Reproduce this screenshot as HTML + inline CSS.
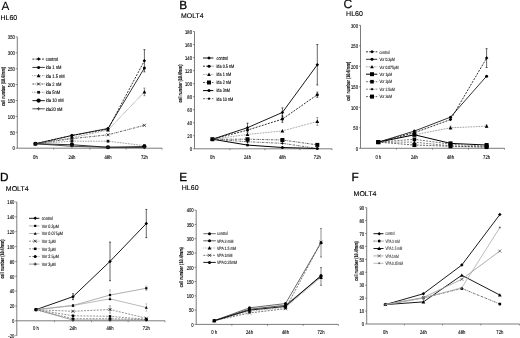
<!DOCTYPE html>
<html><head><meta charset="utf-8"><title>Figure</title>
<style>
html,body{margin:0;padding:0;background:#fff;width:520px;height:338px;overflow:hidden}
svg{display:block;font-family:"Liberation Sans", sans-serif;filter:blur(0.3px);text-rendering:geometricPrecision}
</style></head>
<body>
<svg width="520" height="338" viewBox="0 0 520 338">
<rect width="520" height="338" fill="#fff"/>
<g>
<text x="1.6" y="10" font-size="11.8" text-anchor="start" font-weight="normal" fill="#000" stroke="#000" stroke-width="0.05">A</text>
<text x="0.5" y="19.6" font-size="7.0" text-anchor="start" font-weight="normal" fill="#000" stroke="#000" stroke-width="0.12">HL60</text>
<path d="M17.3 36.9L17.3 148.2" stroke="#444" stroke-width="0.7" fill="none"/>
<path d="M15.7 148.2L17.3 148.2" stroke="#444" stroke-width="0.6"/>
<text x="14.8" y="150.45" font-size="5.5" text-anchor="end" font-weight="normal" fill="#000" transform="translate(14.8 150.45) scale(0.76 1) translate(-14.8 -150.45)" stroke="#000" stroke-width="0.12">0</text>
<path d="M15.7 132.3L17.3 132.3" stroke="#444" stroke-width="0.6"/>
<text x="14.8" y="134.55" font-size="5.5" text-anchor="end" font-weight="normal" fill="#000" transform="translate(14.8 134.55) scale(0.76 1) translate(-14.8 -134.55)" stroke="#000" stroke-width="0.12">50</text>
<path d="M15.7 116.4L17.3 116.4" stroke="#444" stroke-width="0.6"/>
<text x="14.8" y="118.65" font-size="5.5" text-anchor="end" font-weight="normal" fill="#000" transform="translate(14.8 118.65) scale(0.76 1) translate(-14.8 -118.65)" stroke="#000" stroke-width="0.12">100</text>
<path d="M15.7 100.5L17.3 100.5" stroke="#444" stroke-width="0.6"/>
<text x="14.8" y="102.75" font-size="5.5" text-anchor="end" font-weight="normal" fill="#000" transform="translate(14.8 102.75) scale(0.76 1) translate(-14.8 -102.75)" stroke="#000" stroke-width="0.12">150</text>
<path d="M15.7 84.6L17.3 84.6" stroke="#444" stroke-width="0.6"/>
<text x="14.8" y="86.85" font-size="5.5" text-anchor="end" font-weight="normal" fill="#000" transform="translate(14.8 86.85) scale(0.76 1) translate(-14.8 -86.85)" stroke="#000" stroke-width="0.12">200</text>
<path d="M15.7 68.7L17.3 68.7" stroke="#444" stroke-width="0.6"/>
<text x="14.8" y="70.95" font-size="5.5" text-anchor="end" font-weight="normal" fill="#000" transform="translate(14.8 70.95) scale(0.76 1) translate(-14.8 -70.95)" stroke="#000" stroke-width="0.12">250</text>
<path d="M15.7 52.8L17.3 52.8" stroke="#444" stroke-width="0.6"/>
<text x="14.8" y="55.05" font-size="5.5" text-anchor="end" font-weight="normal" fill="#000" transform="translate(14.8 55.05) scale(0.76 1) translate(-14.8 -55.05)" stroke="#000" stroke-width="0.12">300</text>
<path d="M15.7 36.9L17.3 36.9" stroke="#444" stroke-width="0.6"/>
<text x="14.8" y="39.15" font-size="5.5" text-anchor="end" font-weight="normal" fill="#000" transform="translate(14.8 39.15) scale(0.76 1) translate(-14.8 -39.15)" stroke="#000" stroke-width="0.12">350</text>
<path d="M17.3 148.2L162.1 148.2" stroke="#444" stroke-width="0.7" fill="none"/>
<path d="M53.65 148.2L53.65 149.6" stroke="#444" stroke-width="0.6"/>
<path d="M89.95 148.2L89.95 149.6" stroke="#444" stroke-width="0.6"/>
<path d="M126.2 148.2L126.2 149.6" stroke="#444" stroke-width="0.6"/>
<path d="M162.1 148.2L162.1 149.6" stroke="#444" stroke-width="0.6"/>
<text x="35.4" y="158.9" font-size="5.5" text-anchor="middle" font-weight="normal" fill="#000" transform="translate(35.4 158.9) scale(0.76 1) translate(-35.4 -158.9)" stroke="#000" stroke-width="0.12">0h</text>
<text x="71.9" y="158.9" font-size="5.5" text-anchor="middle" font-weight="normal" fill="#000" transform="translate(71.9 158.9) scale(0.76 1) translate(-71.9 -158.9)" stroke="#000" stroke-width="0.12">24h</text>
<text x="108" y="158.9" font-size="5.5" text-anchor="middle" font-weight="normal" fill="#000" transform="translate(108 158.9) scale(0.76 1) translate(-108 -158.9)" stroke="#000" stroke-width="0.12">48h</text>
<text x="144.4" y="158.9" font-size="5.5" text-anchor="middle" font-weight="normal" fill="#000" transform="translate(144.4 158.9) scale(0.76 1) translate(-144.4 -158.9)" stroke="#000" stroke-width="0.12">72h</text>
<text x="0" y="0" font-size="5.4" font-weight="bold" fill="#111" stroke="#111" stroke-width="0.15" text-anchor="middle" textLength="39" lengthAdjust="spacingAndGlyphs" transform="translate(4.8 86.5) rotate(-90)">cell number (10.4/mm)</text>
<path d="M35.4 143.75L71.9 135.48L108 129.12L144.4 60.75" stroke="#000" stroke-width="0.8" fill="none" stroke-dasharray="2,1.2"/>
<path d="M144.4 49.62L144.4 71.88M143.4 49.62L145.4 49.62M143.4 71.88L145.4 71.88" stroke="#000" stroke-width="0.6" fill="none"/>
<path d="M35.4 142L37.15 143.75L35.4 145.5L33.65 143.75Z" fill="#000"/>
<path d="M71.9 133.73L73.65 135.48L71.9 137.23L70.15 135.48Z" fill="#000"/>
<path d="M108 127.37L109.75 129.12L108 130.87L106.25 129.12Z" fill="#000"/>
<path d="M144.4 59L146.15 60.75L144.4 62.5L142.65 60.75Z" fill="#000"/>
<path d="M35.4 143.75L71.9 135.48L108 128.48L144.4 68.06" stroke="#000" stroke-width="0.8" fill="none"/>
<circle cx="35.4" cy="143.75" r="1.5" fill="#000"/>
<circle cx="71.9" cy="135.48" r="1.5" fill="#000"/>
<circle cx="108" cy="128.48" r="1.5" fill="#000"/>
<circle cx="144.4" cy="68.06" r="1.5" fill="#000"/>
<path d="M35.4 143.75L71.9 137.71L108 130.07L144.4 91.91" stroke="#555" stroke-width="0.8" fill="none" stroke-dasharray="0.7,0.9"/>
<path d="M144.4 88.1L144.4 95.73M143.4 88.1L145.4 88.1M143.4 95.73L145.4 95.73" stroke="#555" stroke-width="0.6" fill="none"/>
<path d="M35.4 141.87L37.27 145.25L33.52 145.25Z" fill="#000"/>
<path d="M71.9 135.83L73.78 139.21L70.03 139.21Z" fill="#000"/>
<path d="M108 128.2L109.88 131.57L106.12 131.57Z" fill="#000"/>
<path d="M144.4 90.04L146.28 93.41L142.53 93.41Z" fill="#000"/>
<path d="M35.4 143.75L71.9 138.66L108 134.84L144.4 125.3" stroke="#333" stroke-width="0.8" fill="none" stroke-dasharray="2,0.9,0.7,0.9"/>
<path d="M33.9 142.25L36.9 145.25M36.9 142.25L33.9 145.25" stroke="#000" stroke-width="0.7" fill="none"/>
<path d="M70.4 137.16L73.4 140.16M73.4 137.16L70.4 140.16" stroke="#000" stroke-width="0.7" fill="none"/>
<path d="M106.5 133.34L109.5 136.34M109.5 133.34L106.5 136.34" stroke="#000" stroke-width="0.7" fill="none"/>
<path d="M142.9 123.8L145.9 126.8M145.9 123.8L142.9 126.8" stroke="#000" stroke-width="0.7" fill="none"/>
<path d="M35.4 143.75L71.9 141.2L108 141.2L144.4 145.66" stroke="#555" stroke-width="0.8" fill="none" stroke-dasharray="0.7,0.9"/>
<rect x="34.02" y="142.37" width="2.75" height="2.75" fill="#111"/>
<rect x="70.53" y="139.83" width="2.75" height="2.75" fill="#111"/>
<rect x="106.62" y="139.83" width="2.75" height="2.75" fill="#111"/>
<rect x="143.03" y="144.28" width="2.75" height="2.75" fill="#111"/>
<path d="M35.4 143.75L71.9 144.7L108 147.25L144.4 146.61" stroke="#333" stroke-width="1.1" fill="none"/>
<circle cx="35.4" cy="143.75" r="2.12" fill="#000"/>
<circle cx="71.9" cy="144.7" r="2.12" fill="#000"/>
<circle cx="108" cy="147.25" r="2.12" fill="#000"/>
<circle cx="144.4" cy="146.61" r="2.12" fill="#000"/>
<path d="M35.4 143.75L71.9 146.29L108 147.25L144.4 147.56" stroke="#222" stroke-width="0.8" fill="none"/>
<path d="M33.77 143.75L37.02 143.75M35.4 142.12L35.4 145.37" stroke="#222" stroke-width="0.7" fill="none"/>
<path d="M70.28 146.29L73.53 146.29M71.9 144.67L71.9 147.92" stroke="#222" stroke-width="0.7" fill="none"/>
<path d="M106.38 147.25L109.62 147.25M108 145.62L108 148.87" stroke="#222" stroke-width="0.7" fill="none"/>
<path d="M142.78 147.56L146.03 147.56M144.4 145.94L144.4 149.19" stroke="#222" stroke-width="0.7" fill="none"/>
<path d="M32.4 59.1L44.8 59.1" stroke="#000" stroke-width="0.8" fill="none" stroke-dasharray="2,1.2"/>
<path d="M38.6 57.35L40.35 59.1L38.6 60.85L36.85 59.1Z" fill="#000"/>
<text x="45.7" y="60.9" font-size="5.1" text-anchor="start" font-weight="normal" fill="#000" transform="translate(45.7 60.9) scale(0.8 1) translate(-45.7 -60.9)" stroke="#000" stroke-width="0.12">control</text>
<path d="M32.4 67.4L44.8 67.4" stroke="#000" stroke-width="0.8" fill="none"/>
<circle cx="38.6" cy="67.4" r="1.5" fill="#000"/>
<text x="45.7" y="69.2" font-size="5.1" text-anchor="start" font-weight="normal" fill="#000" transform="translate(45.7 69.2) scale(0.8 1) translate(-45.7 -69.2)" stroke="#000" stroke-width="0.12">ida 1 nM</text>
<path d="M32.4 75.7L44.8 75.7" stroke="#555" stroke-width="0.8" fill="none" stroke-dasharray="0.7,0.9"/>
<path d="M38.6 73.83L40.48 77.2L36.73 77.2Z" fill="#000"/>
<text x="45.7" y="77.5" font-size="5.1" text-anchor="start" font-weight="normal" fill="#000" transform="translate(45.7 77.5) scale(0.8 1) translate(-45.7 -77.5)" stroke="#000" stroke-width="0.12">ida 1.5 nM</text>
<path d="M32.4 84L44.8 84" stroke="#333" stroke-width="0.8" fill="none" stroke-dasharray="2,0.9,0.7,0.9"/>
<path d="M37.1 82.5L40.1 85.5M40.1 82.5L37.1 85.5" stroke="#000" stroke-width="0.7" fill="none"/>
<text x="45.7" y="85.8" font-size="5.1" text-anchor="start" font-weight="normal" fill="#000" transform="translate(45.7 85.8) scale(0.8 1) translate(-45.7 -85.8)" stroke="#000" stroke-width="0.12">ida 2 nM</text>
<path d="M32.4 92.3L44.8 92.3" stroke="#555" stroke-width="0.8" fill="none" stroke-dasharray="0.7,0.9"/>
<rect x="37.23" y="90.92" width="2.75" height="2.75" fill="#111"/>
<text x="45.7" y="94.1" font-size="5.1" text-anchor="start" font-weight="normal" fill="#000" transform="translate(45.7 94.1) scale(0.8 1) translate(-45.7 -94.1)" stroke="#000" stroke-width="0.12">ida  5nM</text>
<path d="M32.4 100.6L44.8 100.6" stroke="#333" stroke-width="1.1" fill="none"/>
<circle cx="38.6" cy="100.6" r="2.12" fill="#000"/>
<text x="45.7" y="102.4" font-size="5.1" text-anchor="start" font-weight="normal" fill="#000" transform="translate(45.7 102.4) scale(0.8 1) translate(-45.7 -102.4)" stroke="#000" stroke-width="0.12">ida 10 nM</text>
<path d="M32.4 108.8L44.8 108.8" stroke="#222" stroke-width="0.8" fill="none"/>
<path d="M36.98 108.8L40.23 108.8M38.6 107.17L38.6 110.42" stroke="#222" stroke-width="0.7" fill="none"/>
<text x="45.7" y="110.6" font-size="5.1" text-anchor="start" font-weight="normal" fill="#000" transform="translate(45.7 110.6) scale(0.8 1) translate(-45.7 -110.6)" stroke="#000" stroke-width="0.12">ida20 nM</text>
<text x="179.2" y="9" font-size="11.8" text-anchor="start" font-weight="normal" fill="#000" stroke="#000" stroke-width="0.3">B</text>
<text x="181.1" y="17.7" font-size="6.9" text-anchor="start" font-weight="normal" fill="#000" stroke="#000" stroke-width="0.12">MOLT4</text>
<path d="M194.5 31.53L194.5 148.8" stroke="#444" stroke-width="0.7" fill="none"/>
<path d="M192.9 148.8L194.5 148.8" stroke="#444" stroke-width="0.6"/>
<text x="192" y="151.05" font-size="5.5" text-anchor="end" font-weight="normal" fill="#000" transform="translate(192 151.05) scale(0.76 1) translate(-192 -151.05)" stroke="#000" stroke-width="0.12">0</text>
<path d="M192.9 135.77L194.5 135.77" stroke="#444" stroke-width="0.6"/>
<text x="192" y="138.02" font-size="5.5" text-anchor="end" font-weight="normal" fill="#000" transform="translate(192 138.02) scale(0.76 1) translate(-192 -138.02)" stroke="#000" stroke-width="0.12">20</text>
<path d="M192.9 122.74L194.5 122.74" stroke="#444" stroke-width="0.6"/>
<text x="192" y="124.99" font-size="5.5" text-anchor="end" font-weight="normal" fill="#000" transform="translate(192 124.99) scale(0.76 1) translate(-192 -124.99)" stroke="#000" stroke-width="0.12">40</text>
<path d="M192.9 109.71L194.5 109.71" stroke="#444" stroke-width="0.6"/>
<text x="192" y="111.96" font-size="5.5" text-anchor="end" font-weight="normal" fill="#000" transform="translate(192 111.96) scale(0.76 1) translate(-192 -111.96)" stroke="#000" stroke-width="0.12">60</text>
<path d="M192.9 96.68L194.5 96.68" stroke="#444" stroke-width="0.6"/>
<text x="192" y="98.93" font-size="5.5" text-anchor="end" font-weight="normal" fill="#000" transform="translate(192 98.93) scale(0.76 1) translate(-192 -98.93)" stroke="#000" stroke-width="0.12">80</text>
<path d="M192.9 83.65L194.5 83.65" stroke="#444" stroke-width="0.6"/>
<text x="192" y="85.9" font-size="5.5" text-anchor="end" font-weight="normal" fill="#000" transform="translate(192 85.9) scale(0.76 1) translate(-192 -85.9)" stroke="#000" stroke-width="0.12">100</text>
<path d="M192.9 70.62L194.5 70.62" stroke="#444" stroke-width="0.6"/>
<text x="192" y="72.87" font-size="5.5" text-anchor="end" font-weight="normal" fill="#000" transform="translate(192 72.87) scale(0.76 1) translate(-192 -72.87)" stroke="#000" stroke-width="0.12">120</text>
<path d="M192.9 57.59L194.5 57.59" stroke="#444" stroke-width="0.6"/>
<text x="192" y="59.84" font-size="5.5" text-anchor="end" font-weight="normal" fill="#000" transform="translate(192 59.84) scale(0.76 1) translate(-192 -59.84)" stroke="#000" stroke-width="0.12">140</text>
<path d="M192.9 44.56L194.5 44.56" stroke="#444" stroke-width="0.6"/>
<text x="192" y="46.81" font-size="5.5" text-anchor="end" font-weight="normal" fill="#000" transform="translate(192 46.81) scale(0.76 1) translate(-192 -46.81)" stroke="#000" stroke-width="0.12">160</text>
<path d="M192.9 31.53L194.5 31.53" stroke="#444" stroke-width="0.6"/>
<text x="192" y="33.78" font-size="5.5" text-anchor="end" font-weight="normal" fill="#000" transform="translate(192 33.78) scale(0.76 1) translate(-192 -33.78)" stroke="#000" stroke-width="0.12">180</text>
<path d="M194.5 148.8L332 148.8" stroke="#444" stroke-width="0.7" fill="none"/>
<path d="M229.95 148.8L229.95 150.2" stroke="#444" stroke-width="0.6"/>
<path d="M264.95 148.8L264.95 150.2" stroke="#444" stroke-width="0.6"/>
<path d="M299.85 148.8L299.85 150.2" stroke="#444" stroke-width="0.6"/>
<path d="M332 148.8L332 150.2" stroke="#444" stroke-width="0.6"/>
<text x="212.4" y="159" font-size="5.5" text-anchor="middle" font-weight="normal" fill="#000" transform="translate(212.4 159) scale(0.76 1) translate(-212.4 -159)" stroke="#000" stroke-width="0.12">0h</text>
<text x="247.5" y="159" font-size="5.5" text-anchor="middle" font-weight="normal" fill="#000" transform="translate(247.5 159) scale(0.76 1) translate(-247.5 -159)" stroke="#000" stroke-width="0.12">24h</text>
<text x="282.4" y="159" font-size="5.5" text-anchor="middle" font-weight="normal" fill="#000" transform="translate(282.4 159) scale(0.76 1) translate(-282.4 -159)" stroke="#000" stroke-width="0.12">48h</text>
<text x="317.3" y="159" font-size="5.5" text-anchor="middle" font-weight="normal" fill="#000" transform="translate(317.3 159) scale(0.76 1) translate(-317.3 -159)" stroke="#000" stroke-width="0.12">72h</text>
<text x="0" y="0" font-size="5.4" font-weight="bold" fill="#111" stroke="#111" stroke-width="0.15" text-anchor="middle" textLength="38" lengthAdjust="spacingAndGlyphs" transform="translate(181.5 83.6) rotate(-90)">cell number (10.4/mm)</text>
<path d="M212.4 139.22L247.5 127.69L282.4 112.45L317.3 64.76" stroke="#000" stroke-width="0.9" fill="none"/>
<path d="M247.5 123.13L247.5 132.25M246.5 123.13L248.5 123.13M246.5 132.25L248.5 132.25" stroke="#000" stroke-width="0.6" fill="none"/>
<path d="M282.4 107.89L282.4 117.01M281.4 107.89L283.4 107.89M281.4 117.01L283.4 117.01" stroke="#000" stroke-width="0.6" fill="none"/>
<path d="M317.3 44.56L317.3 84.95M316.3 44.56L318.3 44.56M316.3 84.95L318.3 84.95" stroke="#000" stroke-width="0.6" fill="none"/>
<path d="M212.4 137.47L214.15 139.22L212.4 140.97L210.65 139.22Z" fill="#000"/>
<path d="M247.5 125.94L249.25 127.69L247.5 129.44L245.75 127.69Z" fill="#000"/>
<path d="M282.4 110.7L284.15 112.45L282.4 114.2L280.65 112.45Z" fill="#000"/>
<path d="M317.3 63.01L319.05 64.76L317.3 66.51L315.55 64.76Z" fill="#000"/>
<path d="M212.4 139.22L247.5 130.1L282.4 119.09L317.3 94.73" stroke="#000" stroke-width="0.8" fill="none" stroke-dasharray="2,1.2"/>
<path d="M282.4 115.83L282.4 122.35M281.4 115.83L283.4 115.83M281.4 122.35L283.4 122.35" stroke="#000" stroke-width="0.6" fill="none"/>
<path d="M317.3 92.12L317.3 97.33M316.3 92.12L318.3 92.12M316.3 97.33L318.3 97.33" stroke="#000" stroke-width="0.6" fill="none"/>
<circle cx="212.4" cy="139.22" r="1.5" fill="#000"/>
<circle cx="247.5" cy="130.1" r="1.5" fill="#000"/>
<circle cx="282.4" cy="119.09" r="1.5" fill="#000"/>
<circle cx="317.3" cy="94.73" r="1.5" fill="#000"/>
<path d="M212.4 139.22L247.5 134.47L282.4 130.95L317.3 121.44" stroke="#666" stroke-width="0.8" fill="none" stroke-dasharray="0.7,0.9"/>
<path d="M317.3 117.53L317.3 125.35M316.3 117.53L318.3 117.53M316.3 125.35L318.3 125.35" stroke="#666" stroke-width="0.6" fill="none"/>
<path d="M212.4 137.35L214.28 140.72L210.53 140.72Z" fill="#000"/>
<path d="M247.5 132.59L249.38 135.97L245.62 135.97Z" fill="#000"/>
<path d="M282.4 129.07L284.27 132.45L280.52 132.45Z" fill="#000"/>
<path d="M317.3 119.56L319.18 122.94L315.43 122.94Z" fill="#000"/>
<path d="M212.4 139.22L247.5 139.22L282.4 140L317.3 144.89" stroke="#333" stroke-width="0.8" fill="none" stroke-dasharray="2,0.9,0.7,0.9"/>
<rect x="210.4" y="137.22" width="4" height="4" fill="#000"/>
<rect x="245.5" y="137.22" width="4" height="4" fill="#000"/>
<rect x="280.4" y="138" width="4" height="4" fill="#000"/>
<rect x="315.3" y="142.89" width="4" height="4" fill="#000"/>
<path d="M212.4 139.22L247.5 145.09L282.4 147.5L317.3 148.47" stroke="#000" stroke-width="1.0" fill="none"/>
<circle cx="212.4" cy="139.22" r="1.5" fill="#000"/>
<circle cx="247.5" cy="145.09" r="1.5" fill="#000"/>
<circle cx="282.4" cy="147.5" r="1.5" fill="#000"/>
<circle cx="317.3" cy="148.47" r="1.5" fill="#000"/>
<path d="M212.4 139.22L247.5 141.76L282.4 143.33L317.3 148.47" stroke="#444" stroke-width="0.8" fill="none" stroke-dasharray="2,0.9,0.7,0.9"/>
<path d="M212.4 137.82L213.8 139.22L212.4 140.62L211 139.22Z" fill="#000"/>
<path d="M247.5 140.36L248.9 141.76L247.5 143.16L246.1 141.76Z" fill="#000"/>
<path d="M282.4 141.93L283.8 143.33L282.4 144.73L281 143.33Z" fill="#000"/>
<path d="M317.3 147.07L318.7 148.47L317.3 149.87L315.9 148.47Z" fill="#000"/>
<path d="M203 58L213.4 58" stroke="#000" stroke-width="0.9" fill="none"/>
<path d="M209 56.25L210.75 58L209 59.75L207.25 58Z" fill="#000"/>
<text x="216.5" y="59.8" font-size="5.0" text-anchor="start" font-weight="normal" fill="#000" transform="translate(216.5 59.8) scale(0.76 1) translate(-216.5 -59.8)" stroke="#000" stroke-width="0.12">control</text>
<path d="M203 66.2L213.4 66.2" stroke="#000" stroke-width="0.8" fill="none" stroke-dasharray="2,1.2"/>
<circle cx="209" cy="66.2" r="1.5" fill="#000"/>
<text x="216.5" y="68" font-size="5.0" text-anchor="start" font-weight="normal" fill="#000" transform="translate(216.5 68) scale(0.76 1) translate(-216.5 -68)" stroke="#000" stroke-width="0.12">ida 0.5 nM</text>
<path d="M203 74.4L213.4 74.4" stroke="#666" stroke-width="0.8" fill="none" stroke-dasharray="0.7,0.9"/>
<path d="M209 72.53L210.88 75.9L207.12 75.9Z" fill="#000"/>
<text x="216.5" y="76.2" font-size="5.0" text-anchor="start" font-weight="normal" fill="#000" transform="translate(216.5 76.2) scale(0.76 1) translate(-216.5 -76.2)" stroke="#000" stroke-width="0.12">ida 1 nM</text>
<path d="M203 82.5L213.4 82.5" stroke="#333" stroke-width="0.8" fill="none" stroke-dasharray="2,0.9,0.7,0.9"/>
<rect x="207" y="80.5" width="4" height="4" fill="#000"/>
<text x="216.5" y="84.3" font-size="5.0" text-anchor="start" font-weight="normal" fill="#000" transform="translate(216.5 84.3) scale(0.76 1) translate(-216.5 -84.3)" stroke="#000" stroke-width="0.12">ida 2 nM</text>
<path d="M203 90.6L213.4 90.6" stroke="#000" stroke-width="1.0" fill="none"/>
<circle cx="209" cy="90.6" r="1.5" fill="#000"/>
<text x="216.5" y="92.4" font-size="5.0" text-anchor="start" font-weight="normal" fill="#000" transform="translate(216.5 92.4) scale(0.76 1) translate(-216.5 -92.4)" stroke="#000" stroke-width="0.12">ida 3nM</text>
<path d="M203 98.7L213.4 98.7" stroke="#444" stroke-width="0.8" fill="none" stroke-dasharray="2,0.9,0.7,0.9"/>
<path d="M209 97.3L210.4 98.7L209 100.1L207.6 98.7Z" fill="#000"/>
<text x="216.5" y="100.5" font-size="5.0" text-anchor="start" font-weight="normal" fill="#000" transform="translate(216.5 100.5) scale(0.76 1) translate(-216.5 -100.5)" stroke="#000" stroke-width="0.12">ida 10 nM</text>
<text x="343.5" y="8.2" font-size="12.2" text-anchor="start" font-weight="normal" fill="#000" stroke="#000" stroke-width="0.15">C</text>
<text x="346.1" y="15.6" font-size="7.0" text-anchor="start" font-weight="normal" fill="#000" stroke="#000" stroke-width="0.12">HL60</text>
<path d="M360.5 25.3L360.5 148.3" stroke="#444" stroke-width="0.7" fill="none"/>
<path d="M358.9 148.3L360.5 148.3" stroke="#444" stroke-width="0.6"/>
<text x="358" y="150.55" font-size="5.5" text-anchor="end" font-weight="normal" fill="#000" transform="translate(358 150.55) scale(0.76 1) translate(-358 -150.55)" stroke="#000" stroke-width="0.12">0</text>
<path d="M358.9 127.8L360.5 127.8" stroke="#444" stroke-width="0.6"/>
<text x="358" y="130.05" font-size="5.5" text-anchor="end" font-weight="normal" fill="#000" transform="translate(358 130.05) scale(0.76 1) translate(-358 -130.05)" stroke="#000" stroke-width="0.12">50</text>
<path d="M358.9 107.3L360.5 107.3" stroke="#444" stroke-width="0.6"/>
<text x="358" y="109.55" font-size="5.5" text-anchor="end" font-weight="normal" fill="#000" transform="translate(358 109.55) scale(0.76 1) translate(-358 -109.55)" stroke="#000" stroke-width="0.12">100</text>
<path d="M358.9 86.8L360.5 86.8" stroke="#444" stroke-width="0.6"/>
<text x="358" y="89.05" font-size="5.5" text-anchor="end" font-weight="normal" fill="#000" transform="translate(358 89.05) scale(0.76 1) translate(-358 -89.05)" stroke="#000" stroke-width="0.12">150</text>
<path d="M358.9 66.3L360.5 66.3" stroke="#444" stroke-width="0.6"/>
<text x="358" y="68.55" font-size="5.5" text-anchor="end" font-weight="normal" fill="#000" transform="translate(358 68.55) scale(0.76 1) translate(-358 -68.55)" stroke="#000" stroke-width="0.12">200</text>
<path d="M358.9 45.8L360.5 45.8" stroke="#444" stroke-width="0.6"/>
<text x="358" y="48.05" font-size="5.5" text-anchor="end" font-weight="normal" fill="#000" transform="translate(358 48.05) scale(0.76 1) translate(-358 -48.05)" stroke="#000" stroke-width="0.12">250</text>
<path d="M358.9 25.3L360.5 25.3" stroke="#444" stroke-width="0.6"/>
<text x="358" y="27.55" font-size="5.5" text-anchor="end" font-weight="normal" fill="#000" transform="translate(358 27.55) scale(0.76 1) translate(-358 -27.55)" stroke="#000" stroke-width="0.12">300</text>
<path d="M360.5 148.3L504.5 148.3" stroke="#444" stroke-width="0.7" fill="none"/>
<path d="M396.35 148.3L396.35 149.7" stroke="#444" stroke-width="0.6"/>
<path d="M432.45 148.3L432.45 149.7" stroke="#444" stroke-width="0.6"/>
<path d="M468.55 148.3L468.55 149.7" stroke="#444" stroke-width="0.6"/>
<path d="M504.5 148.3L504.5 149.7" stroke="#444" stroke-width="0.6"/>
<text x="378.3" y="158.5" font-size="5.5" text-anchor="middle" font-weight="normal" fill="#000" transform="translate(378.3 158.5) scale(0.76 1) translate(-378.3 -158.5)" stroke="#000" stroke-width="0.12">0 h</text>
<text x="414.4" y="158.5" font-size="5.5" text-anchor="middle" font-weight="normal" fill="#000" transform="translate(414.4 158.5) scale(0.76 1) translate(-414.4 -158.5)" stroke="#000" stroke-width="0.12">24h</text>
<text x="450.5" y="158.5" font-size="5.5" text-anchor="middle" font-weight="normal" fill="#000" transform="translate(450.5 158.5) scale(0.76 1) translate(-450.5 -158.5)" stroke="#000" stroke-width="0.12">48h</text>
<text x="486.6" y="158.5" font-size="5.5" text-anchor="middle" font-weight="normal" fill="#000" transform="translate(486.6 158.5) scale(0.76 1) translate(-486.6 -158.5)" stroke="#000" stroke-width="0.12">72h</text>
<text x="0" y="0" font-size="5.4" font-weight="bold" fill="#111" stroke="#111" stroke-width="0.15" text-anchor="middle" textLength="39" lengthAdjust="spacingAndGlyphs" transform="translate(349.6 81.3) rotate(-90)">cell number (10.4/mm)</text>
<path d="M378.3 142.15L414.4 132.72L450.5 119.6L486.6 58.1" stroke="#000" stroke-width="0.8" fill="none" stroke-dasharray="2,1.2"/>
<path d="M486.6 48.67L486.6 67.53M485.6 48.67L487.6 48.67M485.6 67.53L487.6 67.53" stroke="#000" stroke-width="0.6" fill="none"/>
<path d="M378.3 140.4L380.05 142.15L378.3 143.9L376.55 142.15Z" fill="#000"/>
<path d="M414.4 130.97L416.15 132.72L414.4 134.47L412.65 132.72Z" fill="#000"/>
<path d="M450.5 117.85L452.25 119.6L450.5 121.35L448.75 119.6Z" fill="#000"/>
<path d="M486.6 56.35L488.35 58.1L486.6 59.85L484.85 58.1Z" fill="#000"/>
<path d="M378.3 142.15L414.4 131.08L450.5 117.14L486.6 76.14" stroke="#000" stroke-width="0.8" fill="none"/>
<circle cx="378.3" cy="142.15" r="1.5" fill="#000"/>
<circle cx="414.4" cy="131.08" r="1.5" fill="#000"/>
<circle cx="450.5" cy="117.14" r="1.5" fill="#000"/>
<circle cx="486.6" cy="76.14" r="1.5" fill="#000"/>
<path d="M378.3 142.15L414.4 134.77L450.5 127.8L486.6 126.16" stroke="#555" stroke-width="0.8" fill="none" stroke-dasharray="0.7,0.9"/>
<path d="M450.5 126.16L450.5 129.44M449.5 126.16L451.5 126.16M449.5 129.44L451.5 129.44" stroke="#555" stroke-width="0.6" fill="none"/>
<path d="M486.6 124.93L486.6 127.39M485.6 124.93L487.6 124.93M485.6 127.39L487.6 127.39" stroke="#555" stroke-width="0.6" fill="none"/>
<path d="M378.3 140.28L380.18 143.65L376.43 143.65Z" fill="#000"/>
<path d="M414.4 132.9L416.27 136.27L412.52 136.27Z" fill="#000"/>
<path d="M450.5 125.93L452.38 129.3L448.62 129.3Z" fill="#000"/>
<path d="M486.6 124.29L488.48 127.66L484.73 127.66Z" fill="#000"/>
<path d="M378.3 142.15L414.4 134.77L450.5 143.38L486.6 145.02" stroke="#000" stroke-width="1.0" fill="none"/>
<rect x="376.3" y="140.15" width="4" height="4" fill="#000"/>
<rect x="412.4" y="132.77" width="4" height="4" fill="#000"/>
<rect x="448.5" y="141.38" width="4" height="4" fill="#000"/>
<rect x="484.6" y="143.02" width="4" height="4" fill="#000"/>
<path d="M378.3 142.15L414.4 139.28L450.5 144.2L486.6 146.25" stroke="#555" stroke-width="0.8" fill="none" stroke-dasharray="2,1.2"/>
<rect x="376.5" y="140.35" width="3.6" height="3.6" fill="#000"/>
<rect x="412.6" y="137.48" width="3.6" height="3.6" fill="#000"/>
<rect x="448.7" y="142.4" width="3.6" height="3.6" fill="#000"/>
<rect x="484.8" y="144.45" width="3.6" height="3.6" fill="#000"/>
<path d="M378.3 142.15L414.4 142.15L450.5 145.84L486.6 147.07" stroke="#666" stroke-width="0.8" fill="none" stroke-dasharray="2,1.2"/>
<path d="M378.3 140.75L379.7 142.15L378.3 143.55L376.9 142.15Z" fill="#000"/>
<path d="M414.4 140.75L415.8 142.15L414.4 143.55L413 142.15Z" fill="#000"/>
<path d="M450.5 144.44L451.9 145.84L450.5 147.24L449.1 145.84Z" fill="#000"/>
<path d="M486.6 145.67L488 147.07L486.6 148.47L485.2 147.07Z" fill="#000"/>
<path d="M378.3 142.15L414.4 145.02L450.5 146.25L486.6 147.07" stroke="#444" stroke-width="0.8" fill="none" stroke-dasharray="2,1.2"/>
<rect x="376.3" y="140.15" width="4" height="4" fill="#000"/>
<rect x="412.4" y="143.02" width="4" height="4" fill="#000"/>
<rect x="448.5" y="144.25" width="4" height="4" fill="#000"/>
<rect x="484.6" y="145.07" width="4" height="4" fill="#000"/>
<path d="M366 51.8L377.3 51.8" stroke="#000" stroke-width="0.8" fill="none" stroke-dasharray="2,1.2"/>
<path d="M372 50.05L373.75 51.8L372 53.55L370.25 51.8Z" fill="#000"/>
<text x="379.4" y="53.5" font-size="4.7" text-anchor="start" font-weight="normal" fill="#222" transform="translate(379.4 53.5) scale(0.72 1) translate(-379.4 -53.5)" stroke="#222" stroke-width="0.12">control</text>
<path d="M366 59.3L377.3 59.3" stroke="#000" stroke-width="0.8" fill="none"/>
<circle cx="372" cy="59.3" r="1.5" fill="#000"/>
<text x="379.4" y="61" font-size="4.7" text-anchor="start" font-weight="normal" fill="#222" transform="translate(379.4 61) scale(0.72 1) translate(-379.4 -61)" stroke="#222" stroke-width="0.12">Vor 0.3&#956;M</text>
<path d="M366 66.8L377.3 66.8" stroke="#555" stroke-width="0.8" fill="none" stroke-dasharray="0.7,0.9"/>
<path d="M372 64.92L373.88 68.3L370.12 68.3Z" fill="#000"/>
<text x="379.4" y="68.5" font-size="4.7" text-anchor="start" font-weight="normal" fill="#222" transform="translate(379.4 68.5) scale(0.72 1) translate(-379.4 -68.5)" stroke="#222" stroke-width="0.12">Vor 0.075&#956;M</text>
<path d="M366 74.2L377.3 74.2" stroke="#000" stroke-width="1.0" fill="none"/>
<rect x="370" y="72.2" width="4" height="4" fill="#000"/>
<text x="379.4" y="75.9" font-size="4.7" text-anchor="start" font-weight="normal" fill="#222" transform="translate(379.4 75.9) scale(0.72 1) translate(-379.4 -75.9)" stroke="#222" stroke-width="0.12">Vor 1&#956;M</text>
<path d="M366 81.7L377.3 81.7" stroke="#555" stroke-width="0.8" fill="none" stroke-dasharray="2,1.2"/>
<rect x="370.2" y="79.9" width="3.6" height="3.6" fill="#000"/>
<text x="379.4" y="83.4" font-size="4.7" text-anchor="start" font-weight="normal" fill="#222" transform="translate(379.4 83.4) scale(0.72 1) translate(-379.4 -83.4)" stroke="#222" stroke-width="0.12">Vor 2&#956;M</text>
<path d="M366 89.2L377.3 89.2" stroke="#666" stroke-width="0.8" fill="none" stroke-dasharray="2,1.2"/>
<path d="M372 87.8L373.4 89.2L372 90.6L370.6 89.2Z" fill="#000"/>
<text x="379.4" y="90.9" font-size="4.7" text-anchor="start" font-weight="normal" fill="#222" transform="translate(379.4 90.9) scale(0.72 1) translate(-379.4 -90.9)" stroke="#222" stroke-width="0.12">Vor 2.5uM</text>
<path d="M366 96.6L377.3 96.6" stroke="#444" stroke-width="0.8" fill="none" stroke-dasharray="2,1.2"/>
<rect x="370" y="94.6" width="4" height="4" fill="#000"/>
<text x="379.4" y="98.3" font-size="4.7" text-anchor="start" font-weight="normal" fill="#222" transform="translate(379.4 98.3) scale(0.72 1) translate(-379.4 -98.3)" stroke="#222" stroke-width="0.12">Vor 3uM</text>
<text x="0.1" y="180.9" font-size="11.8" text-anchor="start" font-weight="normal" fill="#000" stroke="#000" stroke-width="0.3">D</text>
<text x="5.8" y="190.6" font-size="7.0" text-anchor="start" font-weight="normal" fill="#000" stroke="#000" stroke-width="0.12">MOLT4</text>
<path d="M16.8 202L16.8 335.65" stroke="#444" stroke-width="0.7" fill="none"/>
<path d="M15.2 335.65L16.8 335.65" stroke="#444" stroke-width="0.6"/>
<text x="14.3" y="337.9" font-size="5.5" text-anchor="end" font-weight="normal" fill="#000" transform="translate(14.3 337.9) scale(0.76 1) translate(-14.3 -337.9)" stroke="#000" stroke-width="0.12">-20</text>
<path d="M15.2 320.8L16.8 320.8" stroke="#444" stroke-width="0.6"/>
<text x="14.3" y="323.05" font-size="5.5" text-anchor="end" font-weight="normal" fill="#000" transform="translate(14.3 323.05) scale(0.76 1) translate(-14.3 -323.05)" stroke="#000" stroke-width="0.12">0</text>
<path d="M15.2 305.95L16.8 305.95" stroke="#444" stroke-width="0.6"/>
<text x="14.3" y="308.2" font-size="5.5" text-anchor="end" font-weight="normal" fill="#000" transform="translate(14.3 308.2) scale(0.76 1) translate(-14.3 -308.2)" stroke="#000" stroke-width="0.12">20</text>
<path d="M15.2 291.1L16.8 291.1" stroke="#444" stroke-width="0.6"/>
<text x="14.3" y="293.35" font-size="5.5" text-anchor="end" font-weight="normal" fill="#000" transform="translate(14.3 293.35) scale(0.76 1) translate(-14.3 -293.35)" stroke="#000" stroke-width="0.12">40</text>
<path d="M15.2 276.25L16.8 276.25" stroke="#444" stroke-width="0.6"/>
<text x="14.3" y="278.5" font-size="5.5" text-anchor="end" font-weight="normal" fill="#000" transform="translate(14.3 278.5) scale(0.76 1) translate(-14.3 -278.5)" stroke="#000" stroke-width="0.12">60</text>
<path d="M15.2 261.4L16.8 261.4" stroke="#444" stroke-width="0.6"/>
<text x="14.3" y="263.65" font-size="5.5" text-anchor="end" font-weight="normal" fill="#000" transform="translate(14.3 263.65) scale(0.76 1) translate(-14.3 -263.65)" stroke="#000" stroke-width="0.12">80</text>
<path d="M15.2 246.55L16.8 246.55" stroke="#444" stroke-width="0.6"/>
<text x="14.3" y="248.8" font-size="5.5" text-anchor="end" font-weight="normal" fill="#000" transform="translate(14.3 248.8) scale(0.76 1) translate(-14.3 -248.8)" stroke="#000" stroke-width="0.12">100</text>
<path d="M15.2 231.7L16.8 231.7" stroke="#444" stroke-width="0.6"/>
<text x="14.3" y="233.95" font-size="5.5" text-anchor="end" font-weight="normal" fill="#000" transform="translate(14.3 233.95) scale(0.76 1) translate(-14.3 -233.95)" stroke="#000" stroke-width="0.12">120</text>
<path d="M15.2 216.85L16.8 216.85" stroke="#444" stroke-width="0.6"/>
<text x="14.3" y="219.1" font-size="5.5" text-anchor="end" font-weight="normal" fill="#000" transform="translate(14.3 219.1) scale(0.76 1) translate(-14.3 -219.1)" stroke="#000" stroke-width="0.12">140</text>
<path d="M15.2 202L16.8 202" stroke="#444" stroke-width="0.6"/>
<text x="14.3" y="204.25" font-size="5.5" text-anchor="end" font-weight="normal" fill="#000" transform="translate(14.3 204.25) scale(0.76 1) translate(-14.3 -204.25)" stroke="#000" stroke-width="0.12">160</text>
<path d="M16.8 320.8L165 320.8" stroke="#444" stroke-width="0.7" fill="none"/>
<path d="M54.5 320.8L54.5 322.2" stroke="#444" stroke-width="0.6"/>
<path d="M91.5 320.8L91.5 322.2" stroke="#444" stroke-width="0.6"/>
<path d="M128.15 320.8L128.15 322.2" stroke="#444" stroke-width="0.6"/>
<path d="M165 320.8L165 322.2" stroke="#444" stroke-width="0.6"/>
<text x="36" y="329.8" font-size="5.5" text-anchor="middle" font-weight="normal" fill="#000" transform="translate(36 329.8) scale(0.76 1) translate(-36 -329.8)" stroke="#000" stroke-width="0.12">0 h</text>
<text x="73" y="329.8" font-size="5.5" text-anchor="middle" font-weight="normal" fill="#000" transform="translate(73 329.8) scale(0.76 1) translate(-73 -329.8)" stroke="#000" stroke-width="0.12">24h</text>
<text x="110" y="329.8" font-size="5.5" text-anchor="middle" font-weight="normal" fill="#000" transform="translate(110 329.8) scale(0.76 1) translate(-110 -329.8)" stroke="#000" stroke-width="0.12">48h</text>
<text x="146.3" y="329.8" font-size="5.5" text-anchor="middle" font-weight="normal" fill="#000" transform="translate(146.3 329.8) scale(0.76 1) translate(-146.3 -329.8)" stroke="#000" stroke-width="0.12">72h</text>
<text x="0" y="0" font-size="5.4" font-weight="bold" fill="#111" stroke="#111" stroke-width="0.15" text-anchor="middle" textLength="39" lengthAdjust="spacingAndGlyphs" transform="translate(3.7 259) rotate(-90)">cell number (10.4/mm)</text>
<path d="M36 309.66L73 296.67L110 261.4L146.3 223.53" stroke="#000" stroke-width="0.9" fill="none"/>
<path d="M73 293.7L73 299.64M72 293.7L74 293.7M72 299.64L74 299.64" stroke="#000" stroke-width="0.6" fill="none"/>
<path d="M110 242.1L110 280.71M109 242.1L111 242.1M109 280.71L111 280.71" stroke="#000" stroke-width="0.6" fill="none"/>
<path d="M146.3 209.43L146.3 237.64M145.3 209.43L147.3 209.43M145.3 237.64L147.3 237.64" stroke="#000" stroke-width="0.6" fill="none"/>
<path d="M36 307.91L37.75 309.66L36 311.41L34.25 309.66Z" fill="#000"/>
<path d="M73 294.92L74.75 296.67L73 298.42L71.25 296.67Z" fill="#000"/>
<path d="M110 259.65L111.75 261.4L110 263.15L108.25 261.4Z" fill="#000"/>
<path d="M146.3 221.78L148.05 223.53L146.3 225.28L144.55 223.53Z" fill="#000"/>
<path d="M36 309.66L73 305.5L110 295.04L146.3 288.28" stroke="#999" stroke-width="0.8" fill="none"/>
<path d="M110 289.84L110 300.23M109 289.84L111 289.84M109 300.23L111 300.23" stroke="#999" stroke-width="0.6" fill="none"/>
<path d="M146.3 286.05L146.3 290.51M145.3 286.05L147.3 286.05M145.3 290.51L147.3 290.51" stroke="#999" stroke-width="0.6" fill="none"/>
<rect x="34.9" y="308.56" width="2.2" height="2.2" fill="#000"/>
<rect x="71.9" y="304.4" width="2.2" height="2.2" fill="#000"/>
<rect x="108.9" y="293.94" width="2.2" height="2.2" fill="#000"/>
<rect x="145.2" y="287.18" width="2.2" height="2.2" fill="#000"/>
<path d="M36 309.66L73 305.5L110 298.82L146.3 307.51" stroke="#aaa" stroke-width="0.8" fill="none"/>
<path d="M146.3 303.8L146.3 311.22M145.3 303.8L147.3 303.8M145.3 311.22L147.3 311.22" stroke="#aaa" stroke-width="0.6" fill="none"/>
<path d="M36 308.16L37.5 310.86L34.5 310.86Z" fill="#000"/>
<path d="M73 304L74.5 306.7L71.5 306.7Z" fill="#000"/>
<path d="M110 297.32L111.5 300.02L108.5 300.02Z" fill="#000"/>
<path d="M146.3 306.01L147.8 308.71L144.8 308.71Z" fill="#000"/>
<path d="M36 309.66L73 311.3L110 309.51L146.3 318.28" stroke="#777" stroke-width="0.8" fill="none" stroke-dasharray="2,1.2"/>
<path d="M110 305.8L110 313.23M109 305.8L111 305.8M109 313.23L111 313.23" stroke="#777" stroke-width="0.6" fill="none"/>
<path d="M34.5 308.16L37.5 311.16M37.5 308.16L34.5 311.16" stroke="#000" stroke-width="0.7" fill="none"/>
<path d="M71.5 309.8L74.5 312.8M74.5 309.8L71.5 312.8" stroke="#000" stroke-width="0.7" fill="none"/>
<path d="M108.5 308.01L111.5 311.01M111.5 308.01L108.5 311.01" stroke="#000" stroke-width="0.7" fill="none"/>
<path d="M144.8 316.78L147.8 319.78M147.8 316.78L144.8 319.78" stroke="#000" stroke-width="0.7" fill="none"/>
<path d="M36 309.66L73 315.75L110 316.35L146.3 319.31" stroke="#777" stroke-width="0.8" fill="none" stroke-dasharray="2,1.2"/>
<rect x="34.76" y="308.43" width="2.48" height="2.48" fill="#000"/>
<rect x="71.76" y="314.51" width="2.48" height="2.48" fill="#000"/>
<rect x="108.76" y="315.11" width="2.48" height="2.48" fill="#000"/>
<rect x="145.06" y="318.08" width="2.48" height="2.48" fill="#000"/>
<path d="M36 309.66L73 318.72L110 318.72L146.3 319.54" stroke="#777" stroke-width="0.8" fill="none" stroke-dasharray="2,1.2"/>
<circle cx="36" cy="309.66" r="1.5" fill="#000"/>
<circle cx="73" cy="318.72" r="1.5" fill="#000"/>
<circle cx="110" cy="318.72" r="1.5" fill="#000"/>
<circle cx="146.3" cy="319.54" r="1.5" fill="#000"/>
<path d="M36 309.66L73 320.06L110 320.06L146.3 320.06" stroke="#888" stroke-width="0.8" fill="none"/>
<path d="M34.38 309.66L37.62 309.66M36 308.04L36 311.29" stroke="#000" stroke-width="0.7" fill="none"/>
<path d="M71.38 320.06L74.62 320.06M73 318.43L73 321.68" stroke="#000" stroke-width="0.7" fill="none"/>
<path d="M108.38 320.06L111.62 320.06M110 318.43L110 321.68" stroke="#000" stroke-width="0.7" fill="none"/>
<path d="M144.68 320.06L147.93 320.06M146.3 318.43L146.3 321.68" stroke="#000" stroke-width="0.7" fill="none"/>
<path d="M29 218.3L39.4 218.3" stroke="#000" stroke-width="0.9" fill="none"/>
<path d="M35.2 216.55L36.95 218.3L35.2 220.05L33.45 218.3Z" fill="#000"/>
<text x="41.7" y="220" font-size="4.8" text-anchor="start" font-weight="normal" fill="#222" transform="translate(41.7 220) scale(0.78 1) translate(-41.7 -220)" stroke="#222" stroke-width="0.12">control</text>
<path d="M29 225.9L39.4 225.9" stroke="#999" stroke-width="0.8" fill="none"/>
<rect x="34.1" y="224.8" width="2.2" height="2.2" fill="#000"/>
<text x="41.7" y="227.6" font-size="4.8" text-anchor="start" font-weight="normal" fill="#222" transform="translate(41.7 227.6) scale(0.78 1) translate(-41.7 -227.6)" stroke="#222" stroke-width="0.12">Vor 0.3&#956;M</text>
<path d="M29 233.5L39.4 233.5" stroke="#aaa" stroke-width="0.8" fill="none"/>
<path d="M35.2 232L36.7 234.7L33.7 234.7Z" fill="#000"/>
<text x="41.7" y="235.2" font-size="4.8" text-anchor="start" font-weight="normal" fill="#222" transform="translate(41.7 235.2) scale(0.78 1) translate(-41.7 -235.2)" stroke="#222" stroke-width="0.12">Vor 0.075&#956;M</text>
<path d="M29 241.2L39.4 241.2" stroke="#777" stroke-width="0.8" fill="none" stroke-dasharray="2,1.2"/>
<path d="M33.7 239.7L36.7 242.7M36.7 239.7L33.7 242.7" stroke="#000" stroke-width="0.7" fill="none"/>
<text x="41.7" y="242.9" font-size="4.8" text-anchor="start" font-weight="normal" fill="#222" transform="translate(41.7 242.9) scale(0.78 1) translate(-41.7 -242.9)" stroke="#222" stroke-width="0.12">Vor 1&#956;M</text>
<path d="M29 248.8L39.4 248.8" stroke="#777" stroke-width="0.8" fill="none" stroke-dasharray="2,1.2"/>
<rect x="33.96" y="247.56" width="2.48" height="2.48" fill="#000"/>
<text x="41.7" y="250.5" font-size="4.8" text-anchor="start" font-weight="normal" fill="#222" transform="translate(41.7 250.5) scale(0.78 1) translate(-41.7 -250.5)" stroke="#222" stroke-width="0.12">Vor 2&#956;M</text>
<path d="M29 256.5L39.4 256.5" stroke="#777" stroke-width="0.8" fill="none" stroke-dasharray="2,1.2"/>
<circle cx="35.2" cy="256.5" r="1.5" fill="#000"/>
<text x="41.7" y="258.2" font-size="4.8" text-anchor="start" font-weight="normal" fill="#222" transform="translate(41.7 258.2) scale(0.78 1) translate(-41.7 -258.2)" stroke="#222" stroke-width="0.12">Vor 2.5&#956;M</text>
<path d="M29 264.1L39.4 264.1" stroke="#888" stroke-width="0.8" fill="none"/>
<path d="M33.58 264.1L36.83 264.1M35.2 262.48L35.2 265.73" stroke="#000" stroke-width="0.7" fill="none"/>
<text x="41.7" y="265.8" font-size="4.8" text-anchor="start" font-weight="normal" fill="#222" transform="translate(41.7 265.8) scale(0.78 1) translate(-41.7 -265.8)" stroke="#222" stroke-width="0.12">Vor 3&#956;M</text>
<text x="179.2" y="181.3" font-size="11.8" text-anchor="start" font-weight="normal" fill="#000" stroke="#000" stroke-width="0.3">E</text>
<text x="181.8" y="190" font-size="7.0" text-anchor="start" font-weight="normal" fill="#000" stroke="#000" stroke-width="0.12">HL60</text>
<path d="M196.2 210.2L196.2 324.4" stroke="#444" stroke-width="0.7" fill="none"/>
<path d="M194.6 324.4L196.2 324.4" stroke="#444" stroke-width="0.6"/>
<text x="193.7" y="326.65" font-size="5.5" text-anchor="end" font-weight="normal" fill="#000" transform="translate(193.7 326.65) scale(0.76 1) translate(-193.7 -326.65)" stroke="#000" stroke-width="0.12">0</text>
<path d="M194.6 310.12L196.2 310.12" stroke="#444" stroke-width="0.6"/>
<text x="193.7" y="312.38" font-size="5.5" text-anchor="end" font-weight="normal" fill="#000" transform="translate(193.7 312.38) scale(0.76 1) translate(-193.7 -312.38)" stroke="#000" stroke-width="0.12">50</text>
<path d="M194.6 295.85L196.2 295.85" stroke="#444" stroke-width="0.6"/>
<text x="193.7" y="298.1" font-size="5.5" text-anchor="end" font-weight="normal" fill="#000" transform="translate(193.7 298.1) scale(0.76 1) translate(-193.7 -298.1)" stroke="#000" stroke-width="0.12">100</text>
<path d="M194.6 281.57L196.2 281.57" stroke="#444" stroke-width="0.6"/>
<text x="193.7" y="283.82" font-size="5.5" text-anchor="end" font-weight="normal" fill="#000" transform="translate(193.7 283.82) scale(0.76 1) translate(-193.7 -283.82)" stroke="#000" stroke-width="0.12">150</text>
<path d="M194.6 267.3L196.2 267.3" stroke="#444" stroke-width="0.6"/>
<text x="193.7" y="269.55" font-size="5.5" text-anchor="end" font-weight="normal" fill="#000" transform="translate(193.7 269.55) scale(0.76 1) translate(-193.7 -269.55)" stroke="#000" stroke-width="0.12">200</text>
<path d="M194.6 253.02L196.2 253.02" stroke="#444" stroke-width="0.6"/>
<text x="193.7" y="255.27" font-size="5.5" text-anchor="end" font-weight="normal" fill="#000" transform="translate(193.7 255.27) scale(0.76 1) translate(-193.7 -255.27)" stroke="#000" stroke-width="0.12">250</text>
<path d="M194.6 238.75L196.2 238.75" stroke="#444" stroke-width="0.6"/>
<text x="193.7" y="241" font-size="5.5" text-anchor="end" font-weight="normal" fill="#000" transform="translate(193.7 241) scale(0.76 1) translate(-193.7 -241)" stroke="#000" stroke-width="0.12">300</text>
<path d="M194.6 224.47L196.2 224.47" stroke="#444" stroke-width="0.6"/>
<text x="193.7" y="226.72" font-size="5.5" text-anchor="end" font-weight="normal" fill="#000" transform="translate(193.7 226.72) scale(0.76 1) translate(-193.7 -226.72)" stroke="#000" stroke-width="0.12">350</text>
<path d="M194.6 210.2L196.2 210.2" stroke="#444" stroke-width="0.6"/>
<text x="193.7" y="212.45" font-size="5.5" text-anchor="end" font-weight="normal" fill="#000" transform="translate(193.7 212.45) scale(0.76 1) translate(-193.7 -212.45)" stroke="#000" stroke-width="0.12">400</text>
<path d="M196.2 324.4L338.4 324.4" stroke="#444" stroke-width="0.7" fill="none"/>
<path d="M231.85 324.4L231.85 325.8" stroke="#444" stroke-width="0.6"/>
<path d="M267.5 324.4L267.5 325.8" stroke="#444" stroke-width="0.6"/>
<path d="M303.25 324.4L303.25 325.8" stroke="#444" stroke-width="0.6"/>
<path d="M338.4 324.4L338.4 325.8" stroke="#444" stroke-width="0.6"/>
<text x="214.2" y="334" font-size="5.5" text-anchor="middle" font-weight="normal" fill="#000" transform="translate(214.2 334) scale(0.76 1) translate(-214.2 -334)" stroke="#000" stroke-width="0.12">0 h</text>
<text x="249.5" y="334" font-size="5.5" text-anchor="middle" font-weight="normal" fill="#000" transform="translate(249.5 334) scale(0.76 1) translate(-249.5 -334)" stroke="#000" stroke-width="0.12">24h</text>
<text x="285.5" y="334" font-size="5.5" text-anchor="middle" font-weight="normal" fill="#000" transform="translate(285.5 334) scale(0.76 1) translate(-285.5 -334)" stroke="#000" stroke-width="0.12">48h</text>
<text x="321" y="334" font-size="5.5" text-anchor="middle" font-weight="normal" fill="#000" transform="translate(321 334) scale(0.76 1) translate(-321 -334)" stroke="#000" stroke-width="0.12">72h</text>
<text x="0" y="0" font-size="5.4" font-weight="bold" fill="#111" stroke="#111" stroke-width="0.15" text-anchor="middle" textLength="40" lengthAdjust="spacingAndGlyphs" transform="translate(183.4 267.2) rotate(-90)">cell number (10.4/mm)</text>
<path d="M214.2 320.69L249.5 307.84L285.5 303.56L321 242.75" stroke="#444" stroke-width="0.8" fill="none"/>
<path d="M321 228.47L321 257.02M320 228.47L322 228.47M320 257.02L322 257.02" stroke="#444" stroke-width="0.6" fill="none"/>
<circle cx="214.2" cy="320.69" r="1.5" fill="#000"/>
<circle cx="249.5" cy="307.84" r="1.5" fill="#000"/>
<circle cx="285.5" cy="303.56" r="1.5" fill="#000"/>
<circle cx="321" cy="242.75" r="1.5" fill="#000"/>
<path d="M214.2 320.69L249.5 309.27L285.5 305.27L321 276.44" stroke="#333" stroke-width="0.8" fill="none"/>
<path d="M321 267.59L321 285.29M320 267.59L322 267.59M320 285.29L322 285.29" stroke="#333" stroke-width="0.6" fill="none"/>
<circle cx="214.2" cy="320.69" r="1.5" fill="#000"/>
<circle cx="249.5" cy="309.27" r="1.5" fill="#000"/>
<circle cx="285.5" cy="305.27" r="1.5" fill="#000"/>
<circle cx="321" cy="276.44" r="1.5" fill="#000"/>
<path d="M214.2 320.69L249.5 311.27L285.5 307.27L321 277.58" stroke="#777" stroke-width="0.8" fill="none" stroke-dasharray="0.7,0.9"/>
<path d="M214.2 318.81L216.07 322.19L212.32 322.19Z" fill="#000"/>
<path d="M249.5 309.39L251.38 312.77L247.62 312.77Z" fill="#000"/>
<path d="M285.5 305.39L287.38 308.77L283.62 308.77Z" fill="#000"/>
<path d="M321 275.7L322.88 279.08L319.12 279.08Z" fill="#000"/>
<path d="M214.2 320.69L249.5 312.98L285.5 308.7L321 242.18" stroke="#555" stroke-width="0.8" fill="none" stroke-dasharray="2,1.2"/>
<path d="M212.7 319.19L215.7 322.19M215.7 319.19L212.7 322.19" stroke="#000" stroke-width="0.7" fill="none"/>
<path d="M248 311.48L251 314.48M251 311.48L248 314.48" stroke="#000" stroke-width="0.7" fill="none"/>
<path d="M284 307.2L287 310.2M287 307.2L284 310.2" stroke="#000" stroke-width="0.7" fill="none"/>
<path d="M319.5 240.68L322.5 243.68M322.5 240.68L319.5 243.68" stroke="#000" stroke-width="0.7" fill="none"/>
<path d="M214.2 320.69L249.5 310.12L285.5 306.41L321 275.58" stroke="#000" stroke-width="0.9" fill="none"/>
<circle cx="214.2" cy="320.69" r="1.5" fill="#000"/>
<circle cx="249.5" cy="310.12" r="1.5" fill="#000"/>
<circle cx="285.5" cy="306.41" r="1.5" fill="#000"/>
<circle cx="321" cy="275.58" r="1.5" fill="#000"/>
<path d="M203.3 233.7L215.8 233.7" stroke="#444" stroke-width="0.8" fill="none"/>
<circle cx="209.5" cy="233.7" r="1.5" fill="#000"/>
<text x="217" y="235.4" font-size="4.7" text-anchor="start" font-weight="normal" fill="#222" transform="translate(217 235.4) scale(0.75 1) translate(-217 -235.4)" stroke="#222" stroke-width="0.12">control</text>
<path d="M203.3 240.8L215.8 240.8" stroke="#333" stroke-width="0.8" fill="none"/>
<circle cx="209.5" cy="240.8" r="1.5" fill="#000"/>
<text x="217" y="242.5" font-size="4.7" text-anchor="start" font-weight="normal" fill="#222" transform="translate(217 242.5) scale(0.75 1) translate(-217 -242.5)" stroke="#222" stroke-width="0.12">VPA 3 mM</text>
<path d="M203.3 248L215.8 248" stroke="#777" stroke-width="0.8" fill="none" stroke-dasharray="0.7,0.9"/>
<path d="M209.5 246.12L211.38 249.5L207.62 249.5Z" fill="#000"/>
<text x="217" y="249.7" font-size="4.7" text-anchor="start" font-weight="normal" fill="#222" transform="translate(217 249.7) scale(0.75 1) translate(-217 -249.7)" stroke="#222" stroke-width="0.12">VPA 1.5 mM</text>
<path d="M203.3 255.3L215.8 255.3" stroke="#555" stroke-width="0.8" fill="none" stroke-dasharray="2,1.2"/>
<path d="M208 253.8L211 256.8M211 253.8L208 256.8" stroke="#000" stroke-width="0.7" fill="none"/>
<text x="217" y="257" font-size="4.7" text-anchor="start" font-weight="normal" fill="#222" transform="translate(217 257) scale(0.75 1) translate(-217 -257)" stroke="#222" stroke-width="0.12">VPA 1mM</text>
<path d="M203.3 262.4L215.8 262.4" stroke="#000" stroke-width="0.9" fill="none"/>
<circle cx="209.5" cy="262.4" r="1.5" fill="#000"/>
<text x="217" y="264.1" font-size="4.7" text-anchor="start" font-weight="normal" fill="#222" transform="translate(217 264.1) scale(0.75 1) translate(-217 -264.1)" stroke="#222" stroke-width="0.12">VPA 0.25mM</text>
<text x="351.5" y="181.3" font-size="11.8" text-anchor="start" font-weight="normal" fill="#000" stroke="#000" stroke-width="0.3">F</text>
<text x="353.6" y="195.7" font-size="7.0" text-anchor="start" font-weight="normal" fill="#000" stroke="#000" stroke-width="0.12">MOLT4</text>
<path d="M366.7 207.63L366.7 324" stroke="#444" stroke-width="0.7" fill="none"/>
<path d="M365.1 324L366.7 324" stroke="#444" stroke-width="0.6"/>
<text x="364.2" y="326.25" font-size="5.5" text-anchor="end" font-weight="normal" fill="#000" transform="translate(364.2 326.25) scale(0.76 1) translate(-364.2 -326.25)" stroke="#000" stroke-width="0.12">0</text>
<path d="M365.1 311.07L366.7 311.07" stroke="#444" stroke-width="0.6"/>
<text x="364.2" y="313.32" font-size="5.5" text-anchor="end" font-weight="normal" fill="#000" transform="translate(364.2 313.32) scale(0.76 1) translate(-364.2 -313.32)" stroke="#000" stroke-width="0.12">10</text>
<path d="M365.1 298.14L366.7 298.14" stroke="#444" stroke-width="0.6"/>
<text x="364.2" y="300.39" font-size="5.5" text-anchor="end" font-weight="normal" fill="#000" transform="translate(364.2 300.39) scale(0.76 1) translate(-364.2 -300.39)" stroke="#000" stroke-width="0.12">20</text>
<path d="M365.1 285.21L366.7 285.21" stroke="#444" stroke-width="0.6"/>
<text x="364.2" y="287.46" font-size="5.5" text-anchor="end" font-weight="normal" fill="#000" transform="translate(364.2 287.46) scale(0.76 1) translate(-364.2 -287.46)" stroke="#000" stroke-width="0.12">30</text>
<path d="M365.1 272.28L366.7 272.28" stroke="#444" stroke-width="0.6"/>
<text x="364.2" y="274.53" font-size="5.5" text-anchor="end" font-weight="normal" fill="#000" transform="translate(364.2 274.53) scale(0.76 1) translate(-364.2 -274.53)" stroke="#000" stroke-width="0.12">40</text>
<path d="M365.1 259.35L366.7 259.35" stroke="#444" stroke-width="0.6"/>
<text x="364.2" y="261.6" font-size="5.5" text-anchor="end" font-weight="normal" fill="#000" transform="translate(364.2 261.6) scale(0.76 1) translate(-364.2 -261.6)" stroke="#000" stroke-width="0.12">50</text>
<path d="M365.1 246.42L366.7 246.42" stroke="#444" stroke-width="0.6"/>
<text x="364.2" y="248.67" font-size="5.5" text-anchor="end" font-weight="normal" fill="#000" transform="translate(364.2 248.67) scale(0.76 1) translate(-364.2 -248.67)" stroke="#000" stroke-width="0.12">60</text>
<path d="M365.1 233.49L366.7 233.49" stroke="#444" stroke-width="0.6"/>
<text x="364.2" y="235.74" font-size="5.5" text-anchor="end" font-weight="normal" fill="#000" transform="translate(364.2 235.74) scale(0.76 1) translate(-364.2 -235.74)" stroke="#000" stroke-width="0.12">70</text>
<path d="M365.1 220.56L366.7 220.56" stroke="#444" stroke-width="0.6"/>
<text x="364.2" y="222.81" font-size="5.5" text-anchor="end" font-weight="normal" fill="#000" transform="translate(364.2 222.81) scale(0.76 1) translate(-364.2 -222.81)" stroke="#000" stroke-width="0.12">80</text>
<path d="M365.1 207.63L366.7 207.63" stroke="#444" stroke-width="0.6"/>
<text x="364.2" y="209.88" font-size="5.5" text-anchor="end" font-weight="normal" fill="#000" transform="translate(364.2 209.88) scale(0.76 1) translate(-364.2 -209.88)" stroke="#000" stroke-width="0.12">90</text>
<path d="M366.7 324L519.5 324" stroke="#444" stroke-width="0.7" fill="none"/>
<path d="M404.4 324L404.4 325.4" stroke="#444" stroke-width="0.6"/>
<path d="M442.6 324L442.6 325.4" stroke="#444" stroke-width="0.6"/>
<path d="M480.8 324L480.8 325.4" stroke="#444" stroke-width="0.6"/>
<path d="M519.5 324L519.5 325.4" stroke="#444" stroke-width="0.6"/>
<text x="385.4" y="333.6" font-size="5.5" text-anchor="middle" font-weight="normal" fill="#000" transform="translate(385.4 333.6) scale(0.76 1) translate(-385.4 -333.6)" stroke="#000" stroke-width="0.12">0h</text>
<text x="423.4" y="333.6" font-size="5.5" text-anchor="middle" font-weight="normal" fill="#000" transform="translate(423.4 333.6) scale(0.76 1) translate(-423.4 -333.6)" stroke="#000" stroke-width="0.12">24h</text>
<text x="461.8" y="333.6" font-size="5.5" text-anchor="middle" font-weight="normal" fill="#000" transform="translate(461.8 333.6) scale(0.76 1) translate(-461.8 -333.6)" stroke="#000" stroke-width="0.12">48h</text>
<text x="499.8" y="333.6" font-size="5.5" text-anchor="middle" font-weight="normal" fill="#000" transform="translate(499.8 333.6) scale(0.76 1) translate(-499.8 -333.6)" stroke="#000" stroke-width="0.12">72h</text>
<text x="0" y="0" font-size="5.4" font-weight="bold" fill="#111" stroke="#111" stroke-width="0.15" text-anchor="middle" textLength="39.5" lengthAdjust="spacingAndGlyphs" transform="translate(357.7 261) rotate(-90)">cell number (10.4/mm)</text>
<path d="M385.4 304.61L423.4 293.74L461.8 265.04L499.8 214.61" stroke="#000" stroke-width="0.9" fill="none"/>
<path d="M385.4 302.86L387.15 304.61L385.4 306.36L383.65 304.61Z" fill="#000"/>
<path d="M423.4 291.99L425.15 293.74L423.4 295.49L421.65 293.74Z" fill="#000"/>
<path d="M461.8 263.29L463.55 265.04L461.8 266.79L460.05 265.04Z" fill="#000"/>
<path d="M499.8 212.86L501.55 214.61L499.8 216.36L498.05 214.61Z" fill="#000"/>
<path d="M385.4 304.61L423.4 297.88L461.8 288.44L499.8 303.96" stroke="#444" stroke-width="0.8" fill="none" stroke-dasharray="2,0.9,0.7,0.9"/>
<circle cx="385.4" cy="304.61" r="1.5" fill="#000"/>
<circle cx="423.4" cy="297.88" r="1.5" fill="#000"/>
<circle cx="461.8" cy="288.44" r="1.5" fill="#000"/>
<circle cx="499.8" cy="303.96" r="1.5" fill="#000"/>
<path d="M385.4 304.61L423.4 301.89L461.8 275.25L499.8 295.04" stroke="#000" stroke-width="0.9" fill="none"/>
<path d="M385.4 302.73L387.27 306.11L383.52 306.11Z" fill="#000"/>
<path d="M423.4 300.01L425.27 303.39L421.52 303.39Z" fill="#000"/>
<path d="M461.8 273.38L463.68 276.75L459.93 276.75Z" fill="#000"/>
<path d="M499.8 293.16L501.68 296.54L497.93 296.54Z" fill="#000"/>
<path d="M385.4 304.61L423.4 297.49L461.8 279.26L499.8 251.07" stroke="#999" stroke-width="0.8" fill="none"/>
<path d="M383.9 303.11L386.9 306.11M386.9 303.11L383.9 306.11" stroke="#444" stroke-width="0.7" fill="none"/>
<path d="M421.9 295.99L424.9 298.99M424.9 295.99L421.9 298.99" stroke="#444" stroke-width="0.7" fill="none"/>
<path d="M460.3 277.76L463.3 280.76M463.3 277.76L460.3 280.76" stroke="#444" stroke-width="0.7" fill="none"/>
<path d="M498.3 249.57L501.3 252.57M501.3 249.57L498.3 252.57" stroke="#444" stroke-width="0.7" fill="none"/>
<path d="M385.4 304.61L423.4 298.14L461.8 287.67L499.8 227.54" stroke="#aaa" stroke-width="0.8" fill="none"/>
<circle cx="385.4" cy="304.61" r="1" fill="#666"/>
<circle cx="423.4" cy="298.14" r="1" fill="#666"/>
<circle cx="461.8" cy="287.67" r="1" fill="#666"/>
<circle cx="499.8" cy="227.54" r="1" fill="#666"/>
<path d="M373.5 233.7L383.5 233.7" stroke="#000" stroke-width="0.9" fill="none"/>
<path d="M379.2 231.95L380.95 233.7L379.2 235.45L377.45 233.7Z" fill="#000"/>
<text x="385.6" y="235.4" font-size="4.6" text-anchor="start" font-weight="normal" fill="#444" transform="translate(385.6 235.4) scale(0.66 1) translate(-385.6 -235.4)" stroke="#444" stroke-width="0.12">control</text>
<path d="M373.5 241.1L383.5 241.1" stroke="#444" stroke-width="0.8" fill="none" stroke-dasharray="2,0.9,0.7,0.9"/>
<circle cx="379.2" cy="241.1" r="1.5" fill="#000"/>
<text x="385.6" y="242.8" font-size="4.6" text-anchor="start" font-weight="normal" fill="#444" transform="translate(385.6 242.8) scale(0.66 1) translate(-385.6 -242.8)" stroke="#444" stroke-width="0.12">VPA 3 mM</text>
<path d="M373.5 248.5L383.5 248.5" stroke="#000" stroke-width="0.9" fill="none"/>
<path d="M379.2 246.62L381.07 250L377.32 250Z" fill="#000"/>
<text x="385.6" y="250.2" font-size="4.6" text-anchor="start" font-weight="normal" fill="#444" transform="translate(385.6 250.2) scale(0.66 1) translate(-385.6 -250.2)" stroke="#444" stroke-width="0.12">VPA 1.5 mM</text>
<path d="M373.5 255.9L383.5 255.9" stroke="#999" stroke-width="0.8" fill="none"/>
<path d="M377.7 254.4L380.7 257.4M380.7 254.4L377.7 257.4" stroke="#444" stroke-width="0.7" fill="none"/>
<text x="385.6" y="257.6" font-size="4.6" text-anchor="start" font-weight="normal" fill="#444" transform="translate(385.6 257.6) scale(0.66 1) translate(-385.6 -257.6)" stroke="#444" stroke-width="0.12">VPA 1mM</text>
<path d="M373.5 263.3L383.5 263.3" stroke="#aaa" stroke-width="0.8" fill="none"/>
<circle cx="379.2" cy="263.3" r="1" fill="#666"/>
<text x="385.6" y="265" font-size="4.6" text-anchor="start" font-weight="normal" fill="#444" transform="translate(385.6 265) scale(0.66 1) translate(-385.6 -265)" stroke="#444" stroke-width="0.12">VPA 0.25mM</text>
</g>
</svg>
</body></html>
